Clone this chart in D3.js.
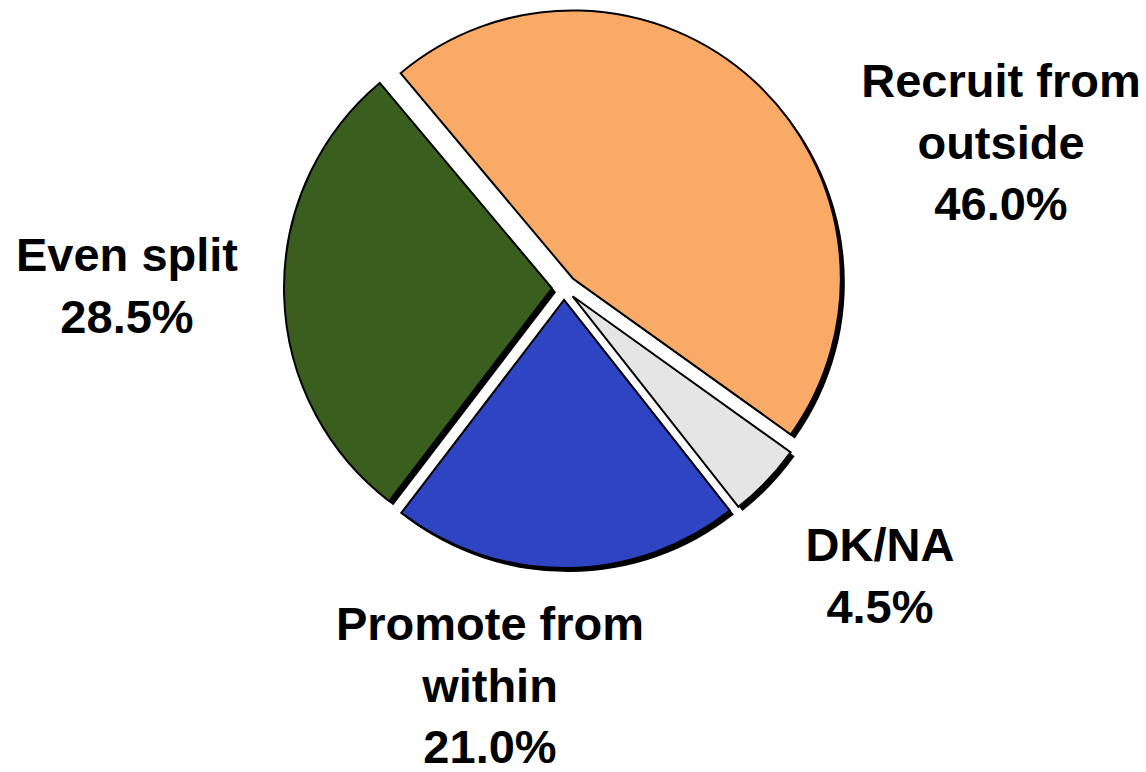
<!DOCTYPE html>
<html>
<head>
<meta charset="utf-8">
<script src="https://cdn.jsdelivr.net/npm/d3@7"></script>
<style>
  html, body { margin: 0; padding: 0; background: #ffffff; }
  svg { display: block; }
</style>
</head>
<body>
<svg id="chart" width="1146" height="772"></svg>
<script>
// ---- data ----
const categories = ["Recruit from outside", "DK/NA", "Promote from within", "Even split"];
const values = [46.0, 4.5, 21.0, 28.5];
const labelLines = [["Recruit from", "outside"], ["DK/NA"], ["Promote from", "within"], ["Even split"]];

// ---- style / layout ----
const colors = ["#F9AA66", "#E5E5E5", "#2E44C2", "#3A5E1E"];
const W = 1146, H = 772;
const center = [564, 288];
const radius = 268;
const explode = [13, 12, 12, 12];
const startDeg = -40;
const shadowOffset = [4, 4];
const fontSize = 47;
const lineHeight = 61.5;
// label block centres (layout)
const labelAnchor = [[1001, 142], [880, 575], [490, 685], [127, 285]];

const svg = d3.select("#chart");
const data = categories.map((c, i) => ({ name: c, value: values[i], i }));

const pie = d3.pie()
  .sort(null)
  .value(d => d.value)
  .startAngle(startDeg * Math.PI / 180)
  .endAngle(startDeg * Math.PI / 180 + 2 * Math.PI);

const arcs = pie(data);
const arc = d3.arc().innerRadius(0).outerRadius(radius);

function offsetOf(a) {
  const mid = (a.startAngle + a.endAngle) / 2;
  const e = explode[a.data.i];
  return [center[0] + e * Math.sin(mid), center[1] - e * Math.cos(mid)];
}

// shadows
svg.append("g").selectAll("path.shadow")
  .data(arcs)
  .join("path")
  .attr("class", "shadow")
  .attr("transform", d => {
    const o = offsetOf(d);
    return `translate(${o[0] + shadowOffset[0]},${o[1] + shadowOffset[1]})`;
  })
  .attr("d", arc)
  .attr("fill", "#000");

// slices
svg.append("g").selectAll("path.slice")
  .data(arcs)
  .join("path")
  .attr("class", "slice")
  .attr("transform", d => {
    const o = offsetOf(d);
    return `translate(${o[0]},${o[1]})`;
  })
  .attr("d", arc)
  .attr("fill", d => colors[d.data.i])
  .attr("stroke", "#000")
  .attr("stroke-width", 2)
  .attr("stroke-linejoin", "miter");

// labels
const fmt = d3.format(".1f");
const lg = svg.append("g")
  .attr("font-family", "Liberation Sans, Arial, sans-serif")
  .attr("font-weight", "bold")
  .attr("font-size", fontSize)
  .attr("fill", "#000")
  .attr("text-anchor", "middle");

arcs.forEach(a => {
  const i = a.data.i;
  const lines = labelLines[i].concat([fmt(a.data.value) + "%"]);
  const [cx, cy] = labelAnchor[i];
  const n = lines.length;
  const t = lg.append("text");
  lines.forEach((ln, k) => {
    const yMid = cy + (k - (n - 1) / 2) * lineHeight;
    t.append("tspan")
      .attr("x", cx)
      .attr("y", yMid + fontSize * 0.358)
      .text(ln);
  });
});
</script>
</body>
</html>
